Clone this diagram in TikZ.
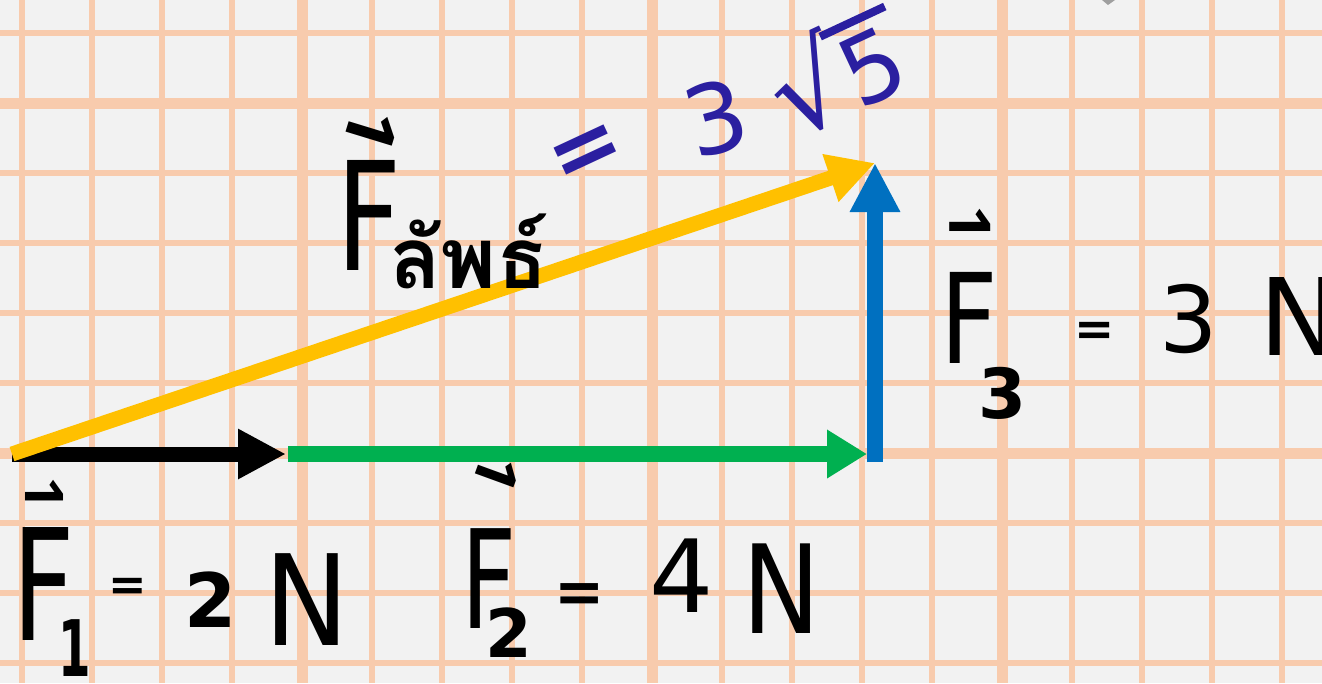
\documentclass[tikz,border=0pt]{standalone}
\usepackage{fontspec}
\setmainfont{DejaVu Sans}
\newfontfamily\thaifont[Script=Thai]{Loma}
\usetikzlibrary{arrows.meta}
\definecolor{bgc}{HTML}{F2F2F2}
\definecolor{gridc}{HTML}{F8CBAD}
\definecolor{ylw}{HTML}{FFC000}
\definecolor{grn}{HTML}{00B050}
\definecolor{blu}{HTML}{0070C0}
\definecolor{penblue}{HTML}{2B1FA0}
\newcommand\fsz[1]{\fontsize{#1}{#1}\selectfont}
\tikzset{
  thingrid/.style={draw=gridc, line width=6pt},
  thickgrid/.style={draw=gridc, line width=11pt},
  hw/.style={inner sep=0pt, outer sep=0pt, text=black, transform shape},
  hwb/.style={hw, text=penblue},
}
\begin{document}
\begin{tikzpicture}[x=1pt,y=-1pt]
\useasboundingbox (0,0) rectangle (1322,683);
\clip (0,0) rectangle (1322,683);
\fill[bgc] (0,0) rectangle (1322,683);
% grid
\foreach \gx in {22,92,162,232,372,442,512,582,722,792,862,932,1072,1142,1212,1282}
  \draw[thingrid] (\gx,0) -- (\gx,683);
\foreach \gy in {33,173,243,313,383,523,593,663}
  \draw[thingrid] (0,\gy) -- (1322,\gy);
\foreach \gx in {302,652,1002}
  \draw[thickgrid] (\gx,0) -- (\gx,683);
\foreach \gy in {103,453}
  \draw[thickgrid] (0,\gy) -- (1322,\gy);
\fill[gray!75] (1102,0) -- (1115,0) -- (1108,5) -- cycle;
% vectors
\coordinate (O) at (12,454);
\coordinate (P) at (288,454);
\coordinate (Q) at (875,454);
\coordinate (R) at (875,163);
\draw[line width=15pt, black, -{Triangle[length=48pt,width=47pt]}, shorten >=2pt] (O) -- (P);
\draw[line width=16pt, grn, -{Triangle[length=40pt,width=46pt]}, shorten >=8pt] (P) -- (Q);
\draw[line width=16pt, blu, -{Triangle[length=49pt,width=47pt]}, shorten <=-8pt] (Q) -- (R);
\draw[line width=15pt, ylw, -{Triangle[length=47pt,width=47pt]}] (O) -- (R);
% resultant label
\node[hw, font=\bfseries\fsz{66}, rotate=-17, yscale=1.4] (rarr) at (369,138) {⇀};
\node[hw, font=\fsz{151}, xscale=.75, anchor=base] (rF) at (369,270) {F};
\node[hw, font=\thaifont\bfseries\fsz{85}, anchor=base west] (rsub) at (389,288) {ลัพธ์};
\node[hwb, font=\bfseries\fsz{88}, rotate=25] (req) at (588,156) {=};
\node[hwb, font=\fsz{96}, rotate=15] (rthree) at (716,118) {3};
\node[hwb, font=\fsz{115}, rotate=25] (rroot) at (834,72) {√\kern-0.03em\rlap{\rule[0.69em]{0.62em}{0.07em}}\kern0.04em{\fsz{95}5}};
% F1 label
\node[hw, font=\bfseries\fsz{52}, yscale=1.4] (aarr) at (44,500) {⇀};
\node[hw, font=\fsz{155}, xscale=.7, anchor=base] (aF) at (44,640) {F};
\node[hw, font=\bfseries\fsz{78}, xscale=.6, anchor=base] (asub) at (75,676) {1};
\node[hw, font=\bfseries\fsz{46}] (aeq) at (128,589) {=};
\node[hw, font=\bfseries\fsz{75}, anchor=base] (atwo) at (211,627) {2};
\node[hw, font=\fsz{126}, xscale=.9, anchor=base] (aN) at (307,645) {N};
% F2 label
\node[hw, font=\bfseries\fsz{56}, rotate=-20, yscale=1.4] (barr) at (495,480) {⇀};
\node[hw, font=\fsz{137}, xscale=.7, anchor=base] (bF) at (489,628) {F};
\node[hw, font=\bfseries\fsz{67}, anchor=base] (bsub) at (509,657) {2};
\node[hw, font=\bfseries\fsz{60}] (beq) at (580,598) {=};
\node[hw, font=\fsz{101}, anchor=base] (bfour) at (682,612) {4};
\node[hw, font=\fsz{123}, xscale=.85, anchor=base] (bN) at (782,633) {N};
% F3 label
\node[hw, font=\bfseries\fsz{56}, yscale=1.4] (carr) at (970,230) {⇀};
\node[hw, font=\fsz{125}, xscale=.8, anchor=base] (cF) at (969,363) {F};
\node[hw, font=\bfseries\fsz{69}, anchor=base] (csub) at (1002,418) {3};
\node[hw, font=\bfseries\fsz{48}] (ceq) at (1095,334) {=};
\node[hw, font=\fsz{92}, anchor=base] (cthree) at (1189,352) {3};
\node[hw, font=\fsz{107}, anchor=base] (cN) at (1300,355) {N};
\end{tikzpicture}
\end{document}
